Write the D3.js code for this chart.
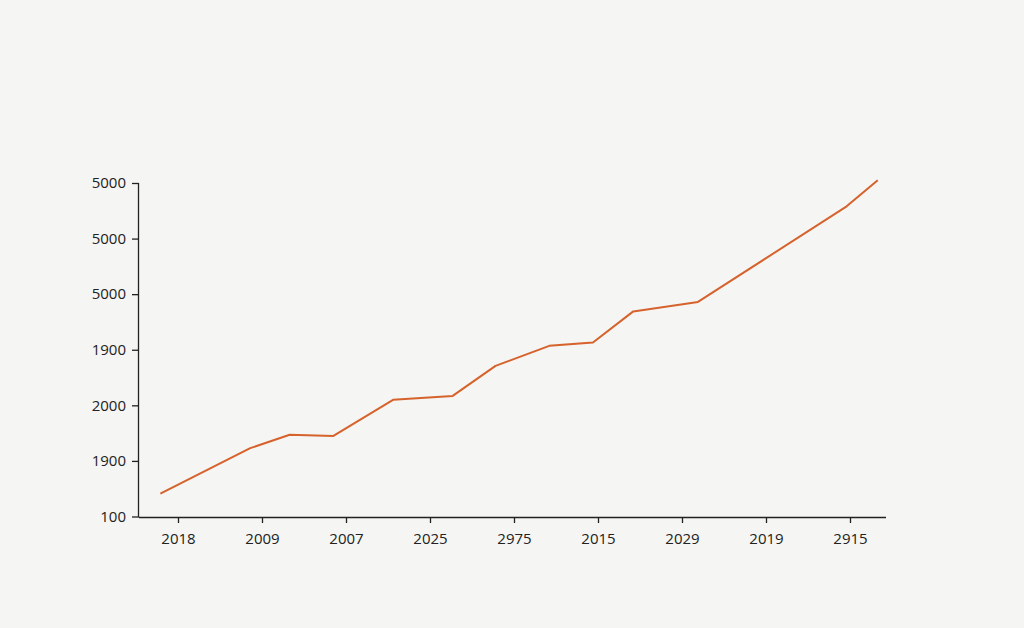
<!DOCTYPE html>
<html>
<head>
<meta charset="utf-8">
<script src="https://cdn.jsdelivr.net/npm/d3@7"></script>
<style>
  body { margin: 0; background: #f5f5f3; }
  svg { display: block; }
  .tick text { font-family: "Open Sans", "DejaVu Sans", sans-serif; font-size: 15px; fill: #222; }
</style>
</head>
<body>
<svg id="chart" width="1024" height="628"></svg>
<script>
// Tick labels as printed on the chart
const xLabels = ["2018", "2009", "2007", "2025", "2975", "2015", "2029", "2019", "2915"];
const yLabels = ["100", "1900", "2000", "1900", "5000", "5000", "5000"];

// Series (x in tick steps, y in tick steps)
const xValues = [-0.21, 0.86, 1.33, 1.85, 2.56, 3.27, 3.78, 4.42, 4.94, 5.42, 6.19, 7.96, 8.33];
const yValues = [0.41, 1.23, 1.47, 1.45, 2.1, 2.17, 2.71, 3.07, 3.13, 3.69, 3.86, 5.58, 6.05];

const svg = d3.select("#chart");

const x = d3.scaleLinear().domain([0, 8]).range([178, 850]);
const y = d3.scaleLinear().domain([0, 6]).range([516.5, 183]);

// y axis
svg.append("g")
  .attr("transform", "translate(139,0)")
  .call(d3.axisLeft(y)
    .tickValues(d3.range(yLabels.length))
    .tickFormat(i => yLabels[i])
    .tickSize(7)
    .tickPadding(6))
  .call(g => g.select(".domain").attr("d", "M-0.5," + y(6) + "V517"))
  .call(g => g.selectAll("line, .domain").attr("stroke", "#222").attr("stroke-width", 1.3));

// x axis
svg.append("g")
  .attr("transform", "translate(0,517)")
  .call(d3.axisBottom(x)
    .tickValues(d3.range(xLabels.length))
    .tickFormat(i => xLabels[i])
    .tickSize(6)
    .tickPadding(10))
  .call(g => g.select(".domain").attr("d", "M139,0.5H886"))
  .call(g => g.selectAll("line, .domain").attr("stroke", "#222").attr("stroke-width", 1.3));

// the line
const data = xValues.map((v, i) => ({ x: v, y: yValues[i] }));
svg.append("path")
  .datum(data)
  .attr("fill", "none")
  .attr("stroke", "#d6622c")
  .attr("stroke-width", 2)
  .attr("stroke-linejoin", "round")
  .attr("d", d3.line().x(d => x(d.x)).y(d => y(d.y)));
</script>
</body>
</html>
